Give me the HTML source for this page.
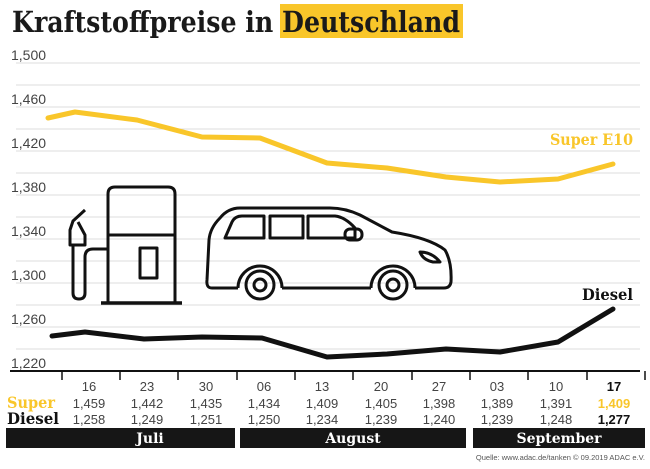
<!DOCTYPE html>
<html><head><meta charset="utf-8"><style>
html,body{margin:0;padding:0;background:#fff;}
svg{display:block;}
.t{font-family:"Liberation Sans",sans-serif;}
.s{font-family:"DejaVu Serif","Liberation Serif",serif;font-weight:bold;}
</style></head><body>
<svg width="650" height="469" viewBox="0 0 650 469" xmlns="http://www.w3.org/2000/svg">
<rect x="280" y="4" width="183" height="34" fill="#f9c62a"/>
<text x="12" y="32" class="s" font-size="29" fill="#1a1a1a" textLength="448" lengthAdjust="spacingAndGlyphs">Kraftstoffpreise in Deutschland</text>
<g stroke="#dcdcdc" stroke-width="1">
<line x1="16" y1="63" x2="640" y2="63"/><line x1="16" y1="85" x2="640" y2="85"/>
<line x1="16" y1="107" x2="640" y2="107"/><line x1="16" y1="129" x2="640" y2="129"/>
<line x1="16" y1="151" x2="640" y2="151"/><line x1="16" y1="173" x2="640" y2="173"/>
<line x1="16" y1="195" x2="640" y2="195"/><line x1="16" y1="217" x2="640" y2="217"/>
<line x1="16" y1="239" x2="640" y2="239"/><line x1="16" y1="261" x2="640" y2="261"/>
<line x1="16" y1="283" x2="640" y2="283"/><line x1="16" y1="305" x2="640" y2="305"/>
<line x1="16" y1="327" x2="640" y2="327"/><line x1="16" y1="349" x2="640" y2="349"/>
</g>
<g class="t" font-size="14" fill="#444">
<text x="11" y="60">1,500</text><text x="11" y="104">1,460</text><text x="11" y="148">1,420</text>
<text x="11" y="192">1,380</text><text x="11" y="236">1,340</text><text x="11" y="280">1,300</text>
<text x="11" y="324">1,260</text><text x="11" y="368">1,220</text>
</g>
<g fill="none" stroke="#111" stroke-width="3" stroke-linejoin="round">
<path d="M108,303 V194 Q108,187 115,187 H168 Q175,187 175,194 V303"/>
<line x1="108" y1="235" x2="175" y2="235"/>
<rect x="140" y="248" width="17" height="30"/>
<line x1="101" y1="303" x2="182" y2="303" stroke-width="3.5"/>
<path d="M85,210 L73,221 L70,230 V245 H85 V235 L78,222"/>
<path d="M73,245 V293 Q73,299 79,299 Q85,299 85,293 V257 Q85,249 93,249 H108"/>
<path d="M212,288 Q206,288 207,280 L209,240 Q210,228 220,218 Q228,208 240,208 H330 Q345,208 360,215 L392,232 Q430,238 445,250 Q452,262 451,282 Q450,288 444,288 H415 M371,288 H282 M238,288 H212"/>
<path d="M238,288 A22,22 0 0 1 282,288 M371,288 A22,22 0 0 1 415,288"/>
<circle cx="260" cy="285" r="14"/><circle cx="260" cy="285" r="6"/>
<circle cx="393" cy="285" r="14"/><circle cx="393" cy="285" r="6"/>
<path d="M225,238 L232,222 Q235,216 242,216 H264 V238 Z"/>
<rect x="270" y="216" width="33" height="22"/>
<path d="M308,216 H335 Q345,217 355,228 V238 H308 Z"/>
<rect x="345" y="229" width="17" height="11" rx="5"/>
<path d="M420,252 Q432,252 440,262 L433,262 Q423,260 420,252 Z"/>
</g>
<polyline fill="none" stroke="#f9c62a" stroke-width="5" stroke-linejoin="round" stroke-linecap="round" points="48,118 75,112 137,120 202,137 260,138 327,163 387,168 446,177 500,182 558,179 613,164"/>
<polyline fill="none" stroke="#111" stroke-width="5" stroke-linejoin="round" stroke-linecap="round" points="52,336 85,332 144,339 202,337 262,338 327,357 387,354 446,349 500,352 558,342 613,309"/>
<text x="550" y="145" class="s" font-size="16" fill="#f9c62a" textLength="83" lengthAdjust="spacingAndGlyphs">Super E10</text>
<text x="582" y="300" class="s" font-size="16" fill="#111" textLength="51" lengthAdjust="spacingAndGlyphs">Diesel</text>
<line x1="10" y1="371" x2="640" y2="371" stroke="#111" stroke-width="2"/>
<g stroke="#111" stroke-width="1.5">
<line x1="62" y1="371" x2="62" y2="380"/><line x1="120" y1="371" x2="120" y2="380"/>
<line x1="178" y1="371" x2="178" y2="380"/><line x1="237" y1="371" x2="237" y2="380"/>
<line x1="295" y1="371" x2="295" y2="380"/><line x1="353" y1="371" x2="353" y2="380"/>
<line x1="412" y1="371" x2="412" y2="380"/><line x1="470" y1="371" x2="470" y2="380"/>
<line x1="528" y1="371" x2="528" y2="380"/><line x1="587" y1="371" x2="587" y2="380"/>
<line x1="645" y1="371" x2="645" y2="380"/>
</g>
<g class="t" font-size="13" fill="#444" text-anchor="middle">
<text x="89" y="391">16</text><text x="147" y="391">23</text><text x="206" y="391">30</text><text x="264" y="391">06</text><text x="322" y="391">13</text><text x="381" y="391">20</text><text x="439" y="391">27</text><text x="497" y="391">03</text><text x="556" y="391">10</text>
<text x="614" y="391" font-weight="bold" fill="#111">17</text>
<text x="89" y="408">1,459</text><text x="147" y="408">1,442</text><text x="206" y="408">1,435</text><text x="264" y="408">1,434</text><text x="322" y="408">1,409</text><text x="381" y="408">1,405</text><text x="439" y="408">1,398</text><text x="497" y="408">1,389</text><text x="556" y="408">1,391</text>
<text x="614" y="408" font-weight="bold" fill="#f9c62a">1,409</text>
<text x="89" y="424">1,258</text><text x="147" y="424">1,249</text><text x="206" y="424">1,251</text><text x="264" y="424">1,250</text><text x="322" y="424">1,234</text><text x="381" y="424">1,239</text><text x="439" y="424">1,240</text><text x="497" y="424">1,239</text><text x="556" y="424">1,248</text>
<text x="614" y="424" font-weight="bold" fill="#111">1,277</text>
</g>
<text x="7" y="408" class="s" font-size="16" fill="#f9c62a" textLength="48" lengthAdjust="spacingAndGlyphs">Super</text>
<text x="7" y="424" class="s" font-size="16" fill="#111" textLength="52" lengthAdjust="spacingAndGlyphs">Diesel</text>
<rect x="6" y="428" width="229" height="20" fill="#161616"/>
<rect x="240" y="428" width="226" height="20" fill="#161616"/>
<rect x="473" y="428" width="172" height="20" fill="#161616"/>
<g class="s" font-size="14" fill="#fff" text-anchor="middle">
<text x="150" y="443">Juli</text><text x="353" y="443">August</text><text x="559" y="443">September</text>
</g>
<text x="645" y="460" class="t" font-size="7.5" fill="#555" text-anchor="end">Quelle: www.adac.de/tanken   © 09.2019  ADAC e.V.</text>
</svg>
</body></html>
